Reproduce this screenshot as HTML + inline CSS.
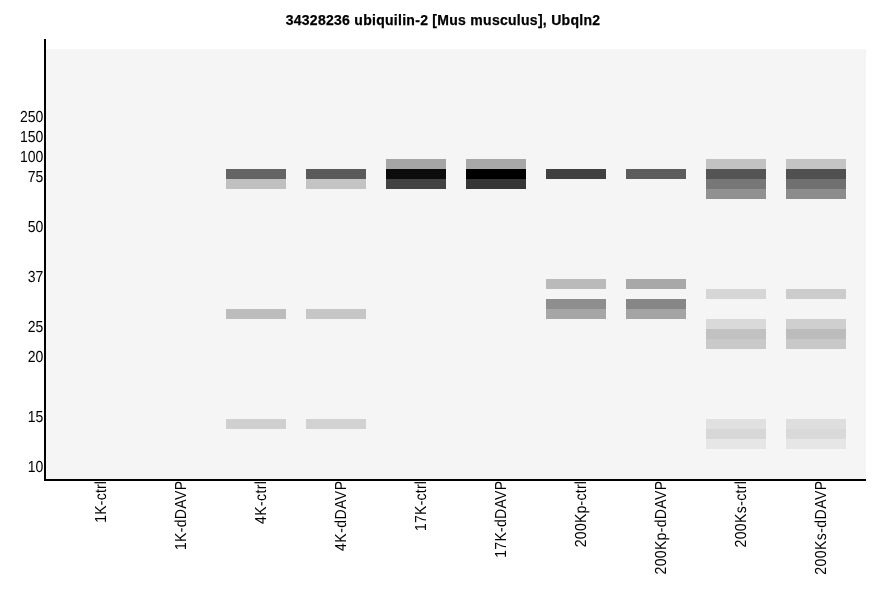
<!DOCTYPE html>
<html><head><meta charset="utf-8"><title>34328236 ubiquilin-2 [Mus musculus], Ubqln2</title>
<style>
html,body{margin:0;padding:0;background:#fff;}
body{width:886px;height:595px;position:relative;overflow:hidden;font-family:"Liberation Sans",Arial,sans-serif;color:#000;}
#plot{position:absolute;left:46px;top:49px;width:820px;height:430px;background:#f5f5f5;}
#yax{position:absolute;left:44px;top:39px;width:2px;height:442px;background:#000;}
#xax{position:absolute;left:44px;top:479px;width:822px;height:2px;background:#000;}
h1{position:absolute;left:0;top:12px;width:886px;margin:0;text-align:center;font-size:14px;letter-spacing:0.28px;line-height:16px;font-weight:bold;white-space:nowrap;-webkit-text-stroke:0.25px #000;}
.b{position:absolute;width:60px;height:10px;}
</style></head><body>
<h1>34328236 ubiquilin-2 [Mus musculus], Ubqln2</h1>
<div id="plot"></div>

<div class="b" style="left:226px;top:169px;background:#646464"></div>
<div class="b" style="left:226px;top:179px;background:#c0c0c0"></div>
<div class="b" style="left:226px;top:309px;background:#bcbcbc"></div>
<div class="b" style="left:226px;top:419px;background:#d0d0d0"></div>
<div class="b" style="left:306px;top:169px;background:#5a5a5a"></div>
<div class="b" style="left:306px;top:179px;background:#c4c4c4"></div>
<div class="b" style="left:306px;top:309px;background:#c6c6c6"></div>
<div class="b" style="left:306px;top:419px;background:#d2d2d2"></div>
<div class="b" style="left:386px;top:159px;background:#a5a5a5"></div>
<div class="b" style="left:386px;top:169px;background:#0c0c0c"></div>
<div class="b" style="left:386px;top:179px;background:#424242"></div>
<div class="b" style="left:466px;top:159px;background:#a7a7a7"></div>
<div class="b" style="left:466px;top:169px;background:#000000"></div>
<div class="b" style="left:466px;top:179px;background:#353535"></div>
<div class="b" style="left:546px;top:169px;background:#404040"></div>
<div class="b" style="left:546px;top:279px;background:#bababa"></div>
<div class="b" style="left:546px;top:299px;background:#8e8e8e"></div>
<div class="b" style="left:546px;top:309px;background:#a6a6a6"></div>
<div class="b" style="left:626px;top:169px;background:#5c5c5c"></div>
<div class="b" style="left:626px;top:279px;background:#a8a8a8"></div>
<div class="b" style="left:626px;top:299px;background:#868686"></div>
<div class="b" style="left:626px;top:309px;background:#a4a4a4"></div>
<div class="b" style="left:706px;top:159px;background:#c2c2c2"></div>
<div class="b" style="left:706px;top:169px;background:#545454"></div>
<div class="b" style="left:706px;top:179px;background:#777777"></div>
<div class="b" style="left:706px;top:189px;background:#919191"></div>
<div class="b" style="left:706px;top:289px;background:#d6d6d6"></div>
<div class="b" style="left:706px;top:319px;background:#d9d9d9"></div>
<div class="b" style="left:706px;top:329px;background:#c1c1c1"></div>
<div class="b" style="left:706px;top:339px;background:#c9c9c9"></div>
<div class="b" style="left:706px;top:419px;background:#e0e0e0"></div>
<div class="b" style="left:706px;top:429px;background:#d7d7d7"></div>
<div class="b" style="left:706px;top:439px;background:#e6e6e6"></div>
<div class="b" style="left:786px;top:159px;background:#c4c4c4"></div>
<div class="b" style="left:786px;top:169px;background:#505050"></div>
<div class="b" style="left:786px;top:179px;background:#707070"></div>
<div class="b" style="left:786px;top:189px;background:#8c8c8c"></div>
<div class="b" style="left:786px;top:289px;background:#cccccc"></div>
<div class="b" style="left:786px;top:319px;background:#cfcfcf"></div>
<div class="b" style="left:786px;top:329px;background:#bcbcbc"></div>
<div class="b" style="left:786px;top:339px;background:#c8c8c8"></div>
<div class="b" style="left:786px;top:419px;background:#dedede"></div>
<div class="b" style="left:786px;top:429px;background:#d9d9d9"></div>
<div class="b" style="left:786px;top:439px;background:#e6e6e6"></div>
<div id="yax"></div><div id="xax"></div>
<svg id="xl" width="886" height="595" viewBox="0 0 886 595" style="position:absolute;left:0;top:0" font-family="Liberation Sans, Arial, sans-serif" font-size="14" fill="#000" text-rendering="geometricPrecision">
<text transform="translate(106,481) rotate(-90) scale(1,1.14)" text-anchor="end" textLength="41.65" lengthAdjust="spacing">1K-ctrl</text>
<text transform="translate(186,481) rotate(-90) scale(1,1.14)" text-anchor="end" textLength="69.1" lengthAdjust="spacing">1K-dDAVP</text>
<text transform="translate(266,481) rotate(-90) scale(1,1.14)" text-anchor="end" textLength="43.05" lengthAdjust="spacing">4K-ctrl</text>
<text transform="translate(346,481) rotate(-90) scale(1,1.14)" text-anchor="end" textLength="69.9" lengthAdjust="spacing">4K-dDAVP</text>
<text transform="translate(426,481) rotate(-90) scale(1,1.14)" text-anchor="end" textLength="50.0" lengthAdjust="spacing">17K-ctrl</text>
<text transform="translate(506,481) rotate(-90) scale(1,1.14)" text-anchor="end" textLength="76.75" lengthAdjust="spacing">17K-dDAVP</text>
<text transform="translate(586,481) rotate(-90) scale(1,1.14)" text-anchor="end" textLength="66.2" lengthAdjust="spacing">200Kp-ctrl</text>
<text transform="translate(666,481) rotate(-90) scale(1,1.14)" text-anchor="end" textLength="93.5" lengthAdjust="spacing">200Kp-dDAVP</text>
<text transform="translate(746,481) rotate(-90) scale(1,1.14)" text-anchor="end" textLength="66.5" lengthAdjust="spacing">200Ks-ctrl</text>
<text transform="translate(826,481) rotate(-90) scale(1,1.14)" text-anchor="end" textLength="93.7" lengthAdjust="spacing">200Ks-dDAVP</text>
<text transform="translate(43.3,122) scale(1,1.14)" text-anchor="end">250</text>
<text transform="translate(43.3,142) scale(1,1.14)" text-anchor="end">150</text>
<text transform="translate(43.3,162) scale(1,1.14)" text-anchor="end">100</text>
<text transform="translate(43.3,182) scale(1,1.14)" text-anchor="end">75</text>
<text transform="translate(43.3,232) scale(1,1.14)" text-anchor="end">50</text>
<text transform="translate(43.3,282) scale(1,1.14)" text-anchor="end">37</text>
<text transform="translate(43.3,332) scale(1,1.14)" text-anchor="end">25</text>
<text transform="translate(43.3,362) scale(1,1.14)" text-anchor="end">20</text>
<text transform="translate(43.3,422) scale(1,1.14)" text-anchor="end">15</text>
<text transform="translate(43.3,472) scale(1,1.14)" text-anchor="end">10</text>
</svg>
</body></html>
